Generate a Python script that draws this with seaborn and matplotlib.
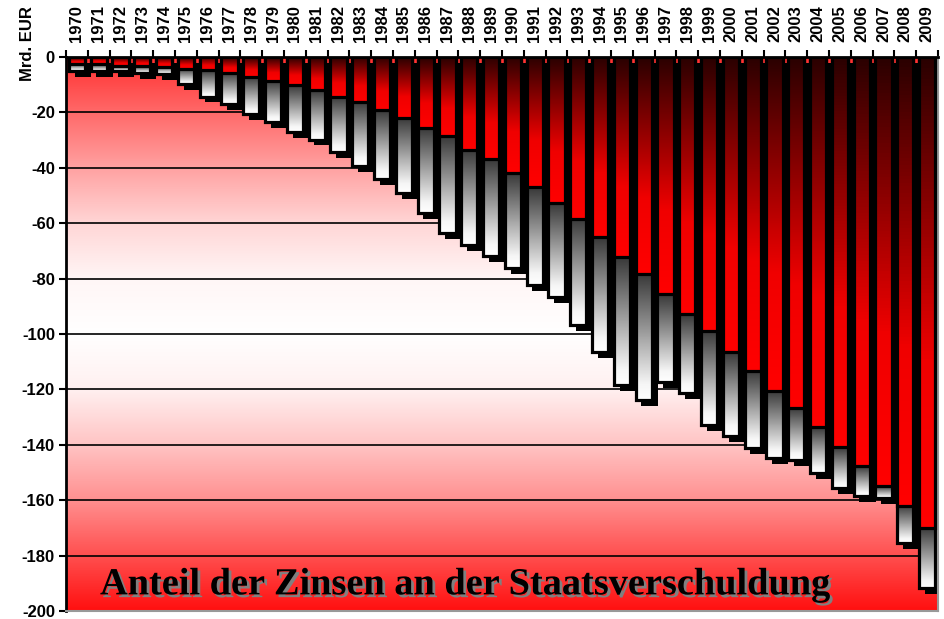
import numpy as np
import pandas as pd
import seaborn as sns
import matplotlib.pyplot as plt
import matplotlib.patches as mpatches
import matplotlib.patheffects as pe
from matplotlib.colors import LinearSegmentedColormap

years = [str(y) for y in range(1970, 2010)]
# interest part (red) and total debt (grey bottom), Mrd. EUR
zinsen = [-2.4, -2.6, -3.2, -3.2, -3.6, -4.2, -4.8, -5.6, -7.1, -8.5,
          -10.1, -11.9, -14.3, -16.3, -19.2, -22.0, -25.6, -28.5, -33.6, -37.0,
          -42.0, -47.0, -52.7, -58.5, -65.0, -72.2, -78.3, -85.6, -92.8, -98.9,
          -106.5, -113.4, -120.6, -126.7, -133.6, -140.8, -147.7, -154.9, -162.1, -170.0]
gesamt = [-5.0, -5.0, -5.0, -5.7, -6.3, -9.9, -14.3, -17.0, -20.5, -23.5,
          -27.0, -29.8, -34.2, -39.5, -44.0, -49.2, -56.3, -63.5, -67.9, -71.8,
          -76.2, -82.3, -86.6, -96.8, -106.5, -118.4, -123.8, -117.3, -121.3, -132.9,
          -136.8, -141.2, -144.8, -145.5, -150.2, -155.6, -158.5, -159.2, -175.5, -191.7]
y_ticks = [0, -20, -40, -60, -80, -100, -120, -140, -160, -180, -200]

df = pd.DataFrame({"Jahr": years, "Zinsen": zinsen, "Gesamt": gesamt})

fig = plt.figure(figsize=(9.44, 6.19), dpi=100)
ax = fig.add_axes([66 / 944, 8 / 619, 872 / 944, 554 / 619])

# background: red -> white -> red
bg_cmap = LinearSegmentedColormap.from_list("bg", [
    (0.0, "#ff1010"), (0.1, "#ff5050"), (0.2, "#ff9090"), (0.3, "#ffc4c4"),
    (0.4, "#fff0f0"), (0.5, "#ffffff"), (0.6, "#fff6f6"), (0.7, "#ffd6d6"),
    (0.8, "#ffa2a2"), (0.9, "#ff6a6a"), (1.0, "#ff3030")])
ax.imshow(np.linspace(0, 1, 256).reshape(-1, 1), extent=[-0.5, 39.5, -200, 0],
          origin="lower", aspect="auto", cmap=bg_cmap, zorder=0)

sns.barplot(data=df, x="Jahr", y="Gesamt", color="white", width=0.74,
            errorbar=None, ax=ax)
n = len(ax.patches)
sns.barplot(data=df, x="Jahr", y="Zinsen", color="red", width=0.74,
            errorbar=None, ax=ax)
grey_bars = list(ax.patches[:n])
red_bars = list(ax.patches[n:])

grey_cmap = LinearSegmentedColormap.from_list("g", [(0, "#ffffff"), (0.12, "#f6f6f6"),
                                                    (1, "#383838")])
red_cmap = LinearSegmentedColormap.from_list("r", [(0, "#ff0000"), (0.35, "#f00000"),
                                                   (1, "#2a0000")])
grad = np.linspace(0, 1, 128).reshape(-1, 1)

for p, z in zip(grey_bars, zinsen):
    x0, w = p.get_x(), p.get_width()
    bottom = p.get_y() + p.get_height()
    # drop shadow: copy of the bar, drawn only as its offset shadow
    sh = mpatches.Rectangle((p.get_x(), p.get_y()), w, p.get_height(),
                            facecolor="black", edgecolor="none", zorder=1.9,
                            path_effects=[pe.SimplePatchShadow(offset=(4.2, -4.2),
                                                               shadow_rgbFace="black",
                                                               alpha=1)])
    ax.add_patch(sh)
    im = ax.imshow(grad, extent=[x0, x0 + w, bottom, z], origin="lower",
                   aspect="auto", cmap=grey_cmap, zorder=2)
    im.set_clip_path(p)
    p.set_facecolor("none")
    p.set_edgecolor("black")
    p.set_linewidth(2.3)
    p.set_zorder(2.1)

for p in red_bars:
    x0, w = p.get_x(), p.get_width()
    bottom = p.get_y() + p.get_height()
    im = ax.imshow(grad, extent=[x0, x0 + w, bottom, 0], origin="lower",
                   aspect="auto", cmap=red_cmap, zorder=3)
    im.set_clip_path(p)
    p.set_facecolor("none")
    p.set_edgecolor("black")
    p.set_linewidth(2.3)
    p.set_zorder(3.1)

ax.set_xlim(-0.5, 39.5)
ax.set_ylim(-200, 0)
ax.set_yticks(y_ticks)
ax.set_yticklabels([str(t) for t in y_ticks], fontsize=12, fontweight="bold",
                   family="Liberation Sans")
ax.yaxis.grid(True, color="black", linewidth=1.2)
for line in ax.get_ygridlines():
    line.set_zorder(0.5)
ax.tick_params(axis="y", length=5, width=1.5, direction="out", pad=3)

ax.xaxis.tick_top()
ax.set_xticks(range(len(years)))
ax.set_xticklabels(years, rotation=90, fontsize=12, fontweight="bold",
                   family="Liberation Sans")
ax.set_xticks(np.arange(-0.5, 40, 1), minor=True)
ax.tick_params(axis="x", which="major", length=0, pad=11)
ax.tick_params(axis="x", which="minor", length=5, width=1.5, top=True)
ax.set_xlabel("")
ax.set_ylabel("")

ax.spines["left"].set_linewidth(2)
ax.spines["top"].set_linewidth(2)
ax.spines["right"].set_color("#999999")
ax.spines["bottom"].set_color("#999999")
ax.spines["right"].set_linewidth(1.5)
ax.spines["bottom"].set_linewidth(1.5)

fig.text(28 / 944, 1 - 44 / 619, "Mrd. EUR", rotation=90, ha="center",
         va="center", fontsize=12, fontweight="bold", family="Liberation Sans")

ax.text(0.039, 0.03, "Anteil der Zinsen an der Staatsverschuldung",
        transform=ax.transAxes, ha="left", va="baseline", fontsize=27.6,
        fontweight="bold", family="Liberation Serif", zorder=5,
        path_effects=[pe.withSimplePatchShadow(offset=(2, -2),
                                               shadow_rgbFace="#808080", alpha=1)])

fig.savefig("out.png", dpi=100)
